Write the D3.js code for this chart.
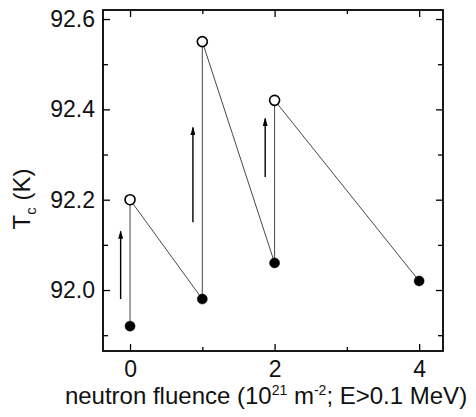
<!DOCTYPE html>
<html>
<head>
<meta charset="utf-8">
<script src="https://cdn.jsdelivr.net/npm/d3@7"></script>
<style>
  body { margin: 0; background: #fff; }
  text { font-family: "Liberation Sans", Arial, sans-serif; fill: #111; }
</style>
</head>
<body>
<svg width="476" height="417"></svg>
<script>
// data
var fluence   = [0, 0, 1, 1, 2, 2, 4];           // path order: before -> after anneal
var tcValues  = [91.92, 92.20, 91.98, 92.55, 92.06, 92.42, 92.02];
var annealed  = [false, true, false, true, false, true, false]; // open circles = annealed
var arrowX    = [-0.13, 0.87, 1.87];
var arrowFrom = [91.98, 92.15, 92.25];
var arrowTo   = [92.13, 92.36, 92.38];
var xTicks = [0, 2, 4], xMinor = [1, 3];
var yTicks = [92.0, 92.2, 92.4, 92.6], yMinor = [91.9, 92.1, 92.3, 92.5];

var svg = d3.select("svg"),
    margin = {top: 10, right: 33, bottom: 66, left: 103},
    width = 476 - margin.left - margin.right,
    height = 417 - margin.top - margin.bottom,
    g = svg.append("g").attr("transform", "translate(" + margin.left + "," + margin.top + ")");

var x = d3.scaleLinear().domain([-0.374, 4.33]).range([0, width]);
var y = d3.scaleLinear().domain([91.865, 92.62]).range([height, 0]);

var pts = fluence.map(function(f, i) {
    return {x: f, y: tcValues[i], open: annealed[i]};
});

// arrow head, drawn along +x so orient=auto turns it up the line
svg.append("defs").append("marker")
    .attr("id", "head")
    .attr("viewBox", "0 0 10 6")
    .attr("refX", 9).attr("refY", 3)
    .attr("markerWidth", 9).attr("markerHeight", 5)
    .attr("markerUnits", "userSpaceOnUse")
    .attr("orient", "auto")
    .append("path").attr("d", "M0,0 L10,3 L0,6 Z").attr("fill", "#000");

// connecting line
g.append("path")
    .datum(pts)
    .attr("fill", "none")
    .attr("stroke", "#333")
    .attr("stroke-width", 0.9)
    .attr("d", d3.line().x(function(d) { return x(d.x); }).y(function(d) { return y(d.y); }));

// arrows
arrowX.forEach(function(ax, i) {
    g.append("line")
        .attr("x1", x(ax)).attr("x2", x(ax))
        .attr("y1", y(arrowFrom[i])).attr("y2", y(arrowTo[i]))
        .attr("stroke", "#000").attr("stroke-width", 1.4)
        .attr("marker-end", "url(#head)");
});

// points
g.selectAll(".pt").data(pts).enter().append("circle")
    .attr("class", "pt")
    .attr("cx", function(d) { return x(d.x); })
    .attr("cy", function(d) { return y(d.y); })
    .attr("r", 5)
    .attr("fill", function(d) { return d.open ? "#fff" : "#000"; })
    .attr("stroke", "#000")
    .attr("stroke-width", function(d) { return d.open ? 1.6 : 0.5; });

// axes, ticks inward on all four sides
function tickStyle(sel) {
    sel.select(".domain").remove();
    sel.selectAll("line").attr("stroke", "#000").attr("stroke-width", 1.3);
    sel.selectAll("text").style("font-size", "23px");
}

g.append("g").attr("transform", "translate(0," + height + ")")
    .call(d3.axisBottom(x).tickValues(xTicks).tickFormat(d3.format("d")).tickSizeInner(-7).tickPadding(9.5))
    .call(tickStyle);
g.append("g").attr("transform", "translate(0," + height + ")")
    .call(d3.axisBottom(x).tickValues(xMinor).tickFormat("").tickSizeInner(-4))
    .call(tickStyle);
g.append("g")
    .call(d3.axisTop(x).tickValues(xTicks).tickFormat("").tickSizeInner(-7))
    .call(tickStyle);
g.append("g")
    .call(d3.axisTop(x).tickValues(xMinor).tickFormat("").tickSizeInner(-4))
    .call(tickStyle);

g.append("g")
    .call(d3.axisLeft(y).tickValues(yTicks).tickFormat(d3.format(".1f")).tickSizeInner(-7).tickPadding(8))
    .call(tickStyle);
g.append("g")
    .call(d3.axisLeft(y).tickValues(yMinor).tickFormat("").tickSizeInner(-5))
    .call(tickStyle);
g.append("g").attr("transform", "translate(" + width + ",0)")
    .call(d3.axisRight(y).tickValues(yTicks).tickFormat("").tickSizeInner(-7))
    .call(tickStyle);
g.append("g").attr("transform", "translate(" + width + ",0)")
    .call(d3.axisRight(y).tickValues(yMinor).tickFormat("").tickSizeInner(-5))
    .call(tickStyle);

// frame
g.append("rect")
    .attr("width", width).attr("height", height)
    .attr("fill", "none").attr("stroke", "#000").attr("stroke-width", 1.8);

// axis titles
var xl = svg.append("text")
    .attr("x", 266).attr("y", 404)
    .attr("text-anchor", "middle")
    .style("font-size", "24px");
xl.append("tspan").text("neutron fluence (10");
xl.append("tspan").attr("dy", -9).style("font-size", "14px").text("21");
xl.append("tspan").attr("dy", 9).text(" m");
xl.append("tspan").attr("dy", -9).style("font-size", "14px").text("-2");
xl.append("tspan").attr("dy", 9).text("; E>0.1 MeV)");

var yl = svg.append("text")
    .attr("transform", "translate(30,199) rotate(-90)")
    .attr("text-anchor", "middle")
    .style("font-size", "24px");
yl.append("tspan").text("T");
yl.append("tspan").attr("dy", 6).style("font-size", "15px").text("c");
yl.append("tspan").attr("dy", -6).text(" (K)");
</script>
</body>
</html>
